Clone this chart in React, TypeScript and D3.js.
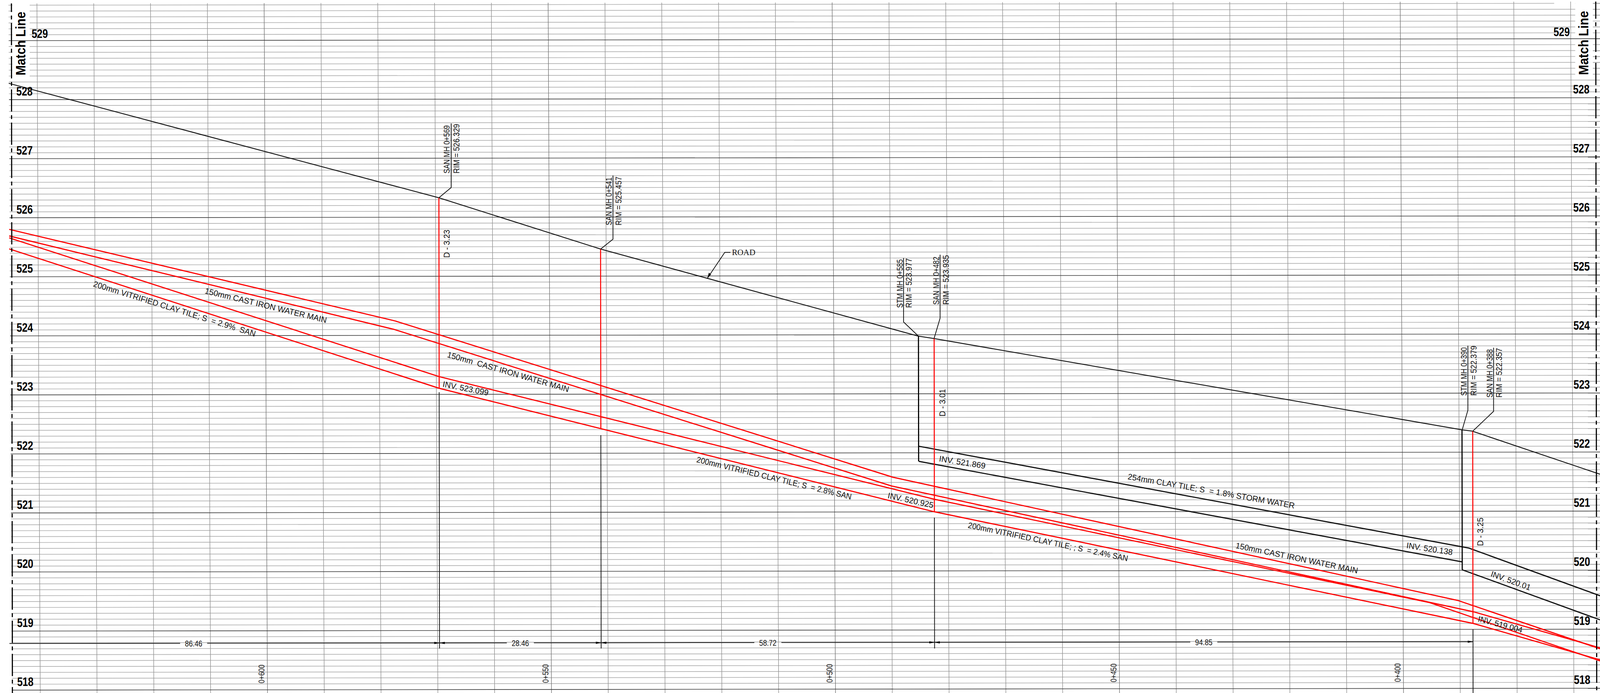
import React from "react";
import * as d3 from "d3";

// ---- data: stations in metres, elevations in metres ----
const majorElevations = d3.range(518, 530);
const minorElevations = d3.range(5180, 5297).map((d) => d / 10).filter((d) => Math.abs(d - Math.round(d)) > 0.01);
const gridStations = d3.range(640, 360, -10);
const stationLabels = [600, 550, 500, 450, 400];

const roadStations = [645.03, 569.38, 540.95, 485.14, 482.34, 389.46, 387.67, 365.22];
const roadElevations = [528.277, 526.329, 525.457, 523.977, 523.935, 522.379, 522.357, 521.624];

const waterTopStations = [645.07, 577.19, 489.69, 390.39, 365.37];
const waterTopElevations = [525.804, 524.244, 521.587, 519.49, 518.668];
const waterLowStations = [645.08, 577.46, 489.97, 387.65, 365.37];
const waterLowElevations = [525.692, 524.103, 521.44, 519.298, 518.684];
const sanTopStations = [645.08, 569.5, 482.44, 395.32, 365.38];
const sanTopElevations = [525.659, 523.301, 521.214, 519.453, 518.463];
const sanLowStations = [645.09, 569.51, 482.45, 387.65, 365.38];
const sanLowElevations = [525.473, 523.103, 521.002, 519.099, 518.481];

const stormTopStations = [485.1, 388.37, 365.32];
const stormTopElevations = [522.112, 520.376, 519.566];
const stormMidStations = [485.12, 389.59];
const stormMidElevations = [521.856, 520.143];
const stormLowStations = [389.6, 365.35];
const stormLowElevations = [520.01, 519.158];

// manhole shafts: station, rim, bottom
const sanShaftStations = [569.28, 540.83, 482.13, 387.34];
const sanShaftRims = [526.329, 525.457, 523.935, 522.357];
const sanShaftInverts = [523.103, 522.418, 521.002, 519.099];
const stormShaftStations = [484.89, 389.22];
const stormShaftRims = [523.977, 522.379];
const stormShaftInverts = [521.856, 520.01];

// extension lines under the sanitary manholes
const extensionStations = [569.28, 540.83, 482.13, 387.34];
const extensionTops = [523.037, 522.306, 520.903, 519.0];
const extensionBottoms = [518.697, 518.694, 518.687, 517.9];

const dimensionStations = [655.86, 569.28, 540.83, 482.13, 387.34];
const dimensionLabels = ["86.46", "28.46", "58.72", "94.85"];
const dimensionElevation = 518.79;

// ---- scales ----
const x = d3.scaleLinear().domain([640, 370]).range([98.25, 4180.65]);
const y = d3.scaleLinear().domain([518, 529]).range([1766.65, 104]);
const SKEW_Y = -0.00115;
const GRID_M = `matrix(1,${SKEW_Y},0.005,1,0,0)`;
const STRUCT_M = `matrix(1,${SKEW_Y},0.0015,1,0,0)`;

const line = d3
  .line<[number, number]>()
  .x((d) => x(d[0]))
  .y((d) => y(d[1]));
const path = (s: number[], e: number[]) => line(s.map((v, i) => [v, e[i]] as [number, number])) as string;

const TOP_E = 529.63;
const BOTTOM_E = 517.85;
const LEFT_S = 645.0;
const RIGHT_S = 362;

const FONT = "'Liberation Sans', Arial, sans-serif";

// ---- annotations placed on the sheet (baseline start / end) ----
type Note = { t: string; p: [number, number, number, number]; size?: number };
const notes: Note[] = [
  { t: "SAN MH 0+569", p: [1197.3, 444, 1197.3, 320.7] },
  { t: "RIM = 526.329", p: [1223, 444, 1223, 317] },
  { t: "D - 3.23", p: [1197, 660, 1197, 588] },
  { t: "SAN MH 0+541", p: [1628, 576.7, 1628, 454] },
  { t: "RIM = 525.457", p: [1654, 577, 1654, 452] },
  { t: "STM MH 0+585", p: [2402.6, 788, 2402.6, 663.6] },
  { t: "RIM = 523.977", p: [2427, 788, 2427, 661] },
  { t: "SAN MH 0+482", p: [2499.8, 780, 2499.8, 656.8] },
  { t: "RIM = 523.935", p: [2525.8, 780, 2525.8, 652.9] },
  { t: "D - 3.01", p: [2516, 1066, 2516, 995.7] },
  { t: "STM MH 0+390", p: [3904.7, 1013, 3904.7, 889] },
  { t: "RIM = 522.379", p: [3930, 1013, 3930, 885] },
  { t: "SAN MH 0+388", p: [3972.7, 1017.7, 3972.7, 894] },
  { t: "RIM = 522.357", p: [3997.7, 1017.7, 3997.7, 890.7] },
  { t: "D - 3.25", p: [3947.7, 1397.7, 3947.7, 1325] },
  { t: "200mm VITRIFIED CLAY TILE; S  = 2.9%  SAN", p: [247, 733, 678, 862] },
  { t: "150mm CAST IRON WATER MAIN", p: [544, 751, 868, 827] },
  { t: "150mm  CAST IRON WATER MAIN", p: [1189, 914, 1512.4, 1004] },
  { t: "INV. 523.099", p: [1177.4, 990, 1299, 1012.7] },
  { t: "200mm VITRIFIED CLAY TILE; S  = 2.8% SAN", p: [1853, 1183, 2265, 1279] },
  { t: "INV. 520.925", p: [2362, 1275, 2483, 1300.7] },
  { t: "INV. 521.869", p: [2499, 1181, 2622, 1200] },
  { t: "254mm CLAY TILE; S  = 1.8% STORM WATER", p: [3001, 1226.7, 3445, 1301.7] },
  { t: "150mm CAST IRON WATER MAIN", p: [3288, 1403, 3613, 1468] },
  { t: "200mm VITRIFIED CLAY TILE; ; S  = 2.4% SAN", p: [2575.7, 1351, 3001, 1437] },
  { t: "INV. 520.138", p: [3743, 1403, 3865.7, 1421] },
  { t: "INV. 520.01", p: [3966.7, 1475, 4071.7, 1511.7] },
  { t: "INV. 519.004", p: [3933, 1590.7, 4050.7, 1620] },
];

// leaders from the road up to the manhole callouts, on the sheet
const leaders: [number, number][][] = [
  [[1168.6, 506], [1201, 480], [1201, 316]],
  [[1599.2, 637.3], [1631.7, 612.3], [1631.7, 449.3]],
  [[2444.3, 860], [2405.2, 824.3], [2405.2, 660.4]],
  [[2486.4, 866.4], [2502.4, 814.6], [2502.4, 652]],
  [[3892.3, 1100], [3907.3, 1050], [3907.3, 885]],
  [[3920, 1104], [3975.7, 1053], [3975.7, 890]],
];
const rawLine = d3.line<[number, number]>();

function Note({ n }: { n: Note }) {
  const [x0, y0, x1, y1] = n.p;
  const dx = x1 - x0;
  const dy = y1 - y0;
  const deg = (Math.atan2(dy, dx) * 180) / Math.PI;
  const len = Math.hypot(dx, dy);
  return (
    <text
      transform={`translate(${x0},${y0}) rotate(${deg})`}
      fontFamily={FONT}
      fontSize={n.size ?? (dx === 0 ? 22 : 21)}
      fill="#111"
      textLength={len}
      lengthAdjust="spacingAndGlyphs"
      style={{ whiteSpace: "pre" }}
    >
      {n.t}
    </text>
  );
}

function ElevLabel({ e, px, dy }: { e: number; px: number; dy: number }) {
  return (
    <text
      x={px}
      y={y(e) + dy}
      fontFamily={FONT}
      fontWeight="bold"
      fontSize={31.5}
      fill="#000"
      textLength={43.5}
      lengthAdjust="spacingAndGlyphs"
    >
      {e}
    </text>
  );
}

export default function App() {
  const dy = y(dimensionElevation);
  const arrow = (px: number, dir: number) =>
    `M${px},${dy}L${px + dir * 14},${dy - 2.8}L${px + dir * 14},${dy + 2.8}Z`;
  return (
    <svg
      viewBox="0 0 4259 1774"
      preserveAspectRatio="none"
      style={{ position: "fixed", left: 0, top: 0, width: "100vw", height: "100vh", display: "block", background: "#fff" }}
    >
      <rect width={4259} height={1774} fill="#fff" />

      <g transform={GRID_M} fill="none">
        {minorElevations.map((e) => (
          <line key={e} x1={x(LEFT_S)} x2={x(RIGHT_S)} y1={y(e)} y2={y(e)} stroke="#b0b0b0" strokeWidth={1.7} />
        ))}
      </g>

      {/* blank panels behind the Match Line captions */}
      <rect x={33} y={6} width={46} height={199} fill="#fff" />
      <rect x={4193} y={6} width={47} height={198} fill="#fff" />
      <rect x={4137} y={4} width={56} height={8} fill="#fff" />

      <g transform={GRID_M} fill="none">
        {gridStations.map((s) => (
          <line
            key={s}
            x1={x(s)}
            x2={x(s)}
            y1={y(TOP_E)}
            y2={y(BOTTOM_E)}
            stroke={s % 50 === 0 ? "#777" : "#949494"}
            strokeWidth={1.5}
          />
        ))}
        {majorElevations.map((e) => (
          <line key={e} x1={x(LEFT_S)} x2={x(RIGHT_S)} y1={y(e)} y2={y(e)} stroke="#3c3c3c" strokeWidth={1.6} />
        ))}
        {stationLabels.map((s) => (
          <text
            key={s}
            transform={`translate(${x(s) - 8},${y(518.11)}) rotate(-90)`}
            fontFamily={FONT}
            fontSize={22}
            fill="#111"
            textLength={48}
            lengthAdjust="spacingAndGlyphs"
          >
            {`0+${s}`}
          </text>
        ))}

        <path d={path(roadStations, roadElevations)} stroke="#111" strokeWidth={2.3} />
        <path d={path(stormTopStations, stormTopElevations)} stroke="#111" strokeWidth={2.9} />
        <path d={path(stormMidStations, stormMidElevations)} stroke="#111" strokeWidth={2.9} />
        <path d={path(stormLowStations, stormLowElevations)} stroke="#111" strokeWidth={2.9} />
        <path d={path(waterTopStations, waterTopElevations)} stroke="#f00" strokeWidth={2.9} />
        <path d={path(waterLowStations, waterLowElevations)} stroke="#f00" strokeWidth={2.9} />
        <path d={path(sanTopStations, sanTopElevations)} stroke="#f00" strokeWidth={2.9} />
        <path d={path(sanLowStations, sanLowElevations)} stroke="#f00" strokeWidth={2.9} />
      </g>

      <g transform={STRUCT_M} fill="none">
        {/* match lines */}
        <line
          x1={x(644.49)}
          x2={x(644.49)}
          y1={y(TOP_E)}
          y2={y(BOTTOM_E)}
          stroke="#000"
          strokeWidth={3}
          strokeDasharray="57 9 10 9"
          strokeDashoffset={35}
        />
        <line
          x1={x(365.57)}
          x2={x(365.57)}
          y1={y(TOP_E)}
          y2={y(BOTTOM_E)}
          stroke="#000"
          strokeWidth={3}
          strokeDasharray="57 9 10 9"
          strokeDashoffset={13}
        />

        {stormShaftStations.map((s, i) => (
          <line key={s} x1={x(s)} x2={x(s)} y1={y(stormShaftRims[i])} y2={y(stormShaftInverts[i])} stroke="#000" strokeWidth={3} />
        ))}
        {sanShaftStations.map((s, i) => (
          <line key={s} x1={x(s)} x2={x(s)} y1={y(sanShaftRims[i])} y2={y(sanShaftInverts[i])} stroke="#f00" strokeWidth={2.7} />
        ))}
        {extensionStations.map((s, i) => (
          <line key={s} x1={x(s)} x2={x(s)} y1={y(extensionTops[i])} y2={y(extensionBottoms[i])} stroke="#111" strokeWidth={2} />
        ))}

        {/* dimension string */}
        {dimensionLabels.map((label, i) => {
          const a = x(dimensionStations[i]);
          const b = x(dimensionStations[i + 1]);
          const mid = (a + b) / 2;
          const half = 36;
          return (
            <g key={label}>
              <line x1={Math.max(a, x(LEFT_S))} x2={mid - half} y1={dy} y2={dy} stroke="#222" strokeWidth={2} />
              <line x1={mid + half} x2={b} y1={dy} y2={dy} stroke="#222" strokeWidth={2} />
              <path d={arrow(b, -1)} fill="#000" />
              {i > 0 && <path d={arrow(a, 1)} fill="#000" />}
              <text
                x={mid}
                y={dy + 8}
                textAnchor="middle"
                fontFamily={FONT}
                fontSize={21}
                fill="#111"
                textLength={46}
                lengthAdjust="spacingAndGlyphs"
              >
                {label}
              </text>
            </g>
          );
        })}

        {majorElevations.map((e) =>
          e === 529 ? (
            <g key={e}>
              <ElevLabel e={e} px={84} dy={-7} />
              <ElevLabel e={e} px={4135} dy={-7} />
            </g>
          ) : (
            <g key={e}>
              <ElevLabel e={e} px={43} dy={-10.5} />
              <ElevLabel e={e} px={4187} dy={-11} />
            </g>
          )
        )}
      </g>

      {/* callout leaders */}
      <g fill="none" stroke="#111" strokeWidth={2}>
        {leaders.map((l, i) => (
          <path key={i} d={rawLine(l) as string} />
        ))}
        <path d="M1882.3,713.3L1929.3,646L1944.3,646" />
      </g>
      <path d="M1882.3,713.3L1887,698L1893,702.5Z" fill="#111" />
      <text x={1948.3} y={653.3} fontFamily="'Liberation Serif', 'Times New Roman', serif" fontSize={22} fill="#111">
        ROAD
      </text>

      {notes.map((n, i) => (
        <Note key={i} n={n} />
      ))}

      <text
        transform="translate(68,193) rotate(-90)"
        fontFamily={FONT}
        fontWeight="bold"
        fontSize={36}
        textLength={163}
        lengthAdjust="spacingAndGlyphs"
        fill="#000"
      >
        Match Line
      </text>
      <text
        transform="translate(4228,192) rotate(-90)"
        fontFamily={FONT}
        fontWeight="bold"
        fontSize={36}
        textLength={164}
        lengthAdjust="spacingAndGlyphs"
        fill="#000"
      >
        Match Line
      </text>
    </svg>
  );
}
